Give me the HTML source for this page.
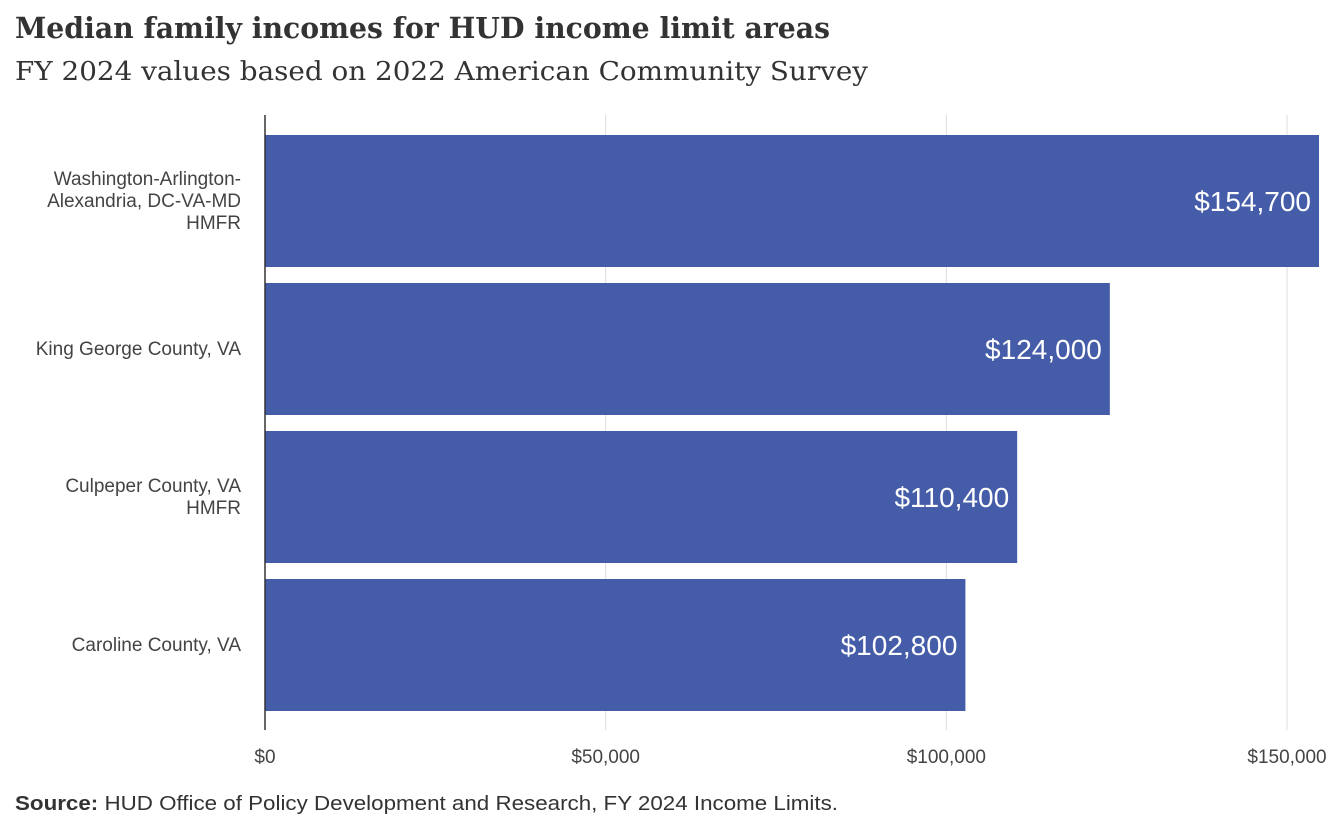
<!DOCTYPE html>
<html><head><meta charset="utf-8"><style>
body{margin:0;background:#fff;width:1344px;height:830px;overflow:hidden;font-family:"Liberation Sans",sans-serif;}
</style></head><body>
<svg width="1344" height="830" xmlns="http://www.w3.org/2000/svg">
<text x="15" y="38" font-family="DejaVu Serif, serif" font-weight="bold" font-size="29" fill="#333" textLength="815" lengthAdjust="spacingAndGlyphs">Median family incomes for HUD income limit areas</text>
<text x="15" y="80" font-family="DejaVu Serif, serif" font-size="26" fill="#333" textLength="853" lengthAdjust="spacingAndGlyphs">FY 2024 values based on 2022 American Community Survey</text>
<g id="grid"></g><g id="bars"></g><g id="ylabels"></g><g id="xticks"></g>
<line x1="265" y1="115" x2="265" y2="730" stroke="#333" stroke-width="1.5"/>
<text x="15" y="810" font-size="20" fill="#333" textLength="823" lengthAdjust="spacingAndGlyphs"><tspan font-weight="bold">Source:</tspan> HUD Office of Policy Development and Research, FY 2024 Income Limits.</text>
</svg>
<script>
const categories=[["Washington-Arlington-","Alexandria, DC-VA-MD","HMFR"],["King George County, VA"],["Culpeper County, VA","HMFR"],["Caroline County, VA"]];
const values=[154700,124000,110400,102800];
const valueLabels=["$154,700","$124,000","$110,400","$102,800"];
const ticks=[0,50000,100000,150000];
const tickLabels=["$0","$50,000","$100,000","$150,000"];
const NS="http://www.w3.org/2000/svg";
const x=v=>265+v*(1287-265)/150000;
const step=148,top0=127,bh=132;
const y=i=>top0+i*step+8;
function mk(t,a,p,txt){const e=document.createElementNS(NS,t);for(const k in a)e.setAttribute(k,a[k]);if(txt!==undefined)e.textContent=txt;document.getElementById(p).appendChild(e);return e;}
ticks.forEach((t,i)=>{
 if(i>0){const l=mk('line',{x1:x(t),x2:x(t),y1:115,y2:730,stroke:'#ddd','stroke-width':1},'grid');
 
 }
 const tx=mk('text',{x:x(t),y:763,'text-anchor':'middle','font-size':19,fill:'#444'},'xticks',tickLabels[i]);
 
 
});
values.forEach((v,i)=>{
 const r=mk('rect',{x:265,y:y(i),width:x(v)-265,height:bh,fill:'#455ca9'},'bars');
 
 
 const t=mk('text',{x:x(v)-8,y:y(i)+bh/2+10,'text-anchor':'end','font-size':28,fill:'#fff'},'bars',valueLabels[i]);
 
 
 const lines=categories[i];const lh=22;const cy=y(i)+bh/2+6-(lines.length-1)*lh/2;
 const g=mk('text',{'text-anchor':'end','font-size':19,fill:'#444'},'ylabels');
 
 
 lines.forEach((s,j)=>{const ts=document.createElementNS(NS,'tspan');ts.setAttribute('x',241);ts.setAttribute('y',cy+j*lh);ts.textContent=s;g.appendChild(ts);});
});
</script>
</body></html>
